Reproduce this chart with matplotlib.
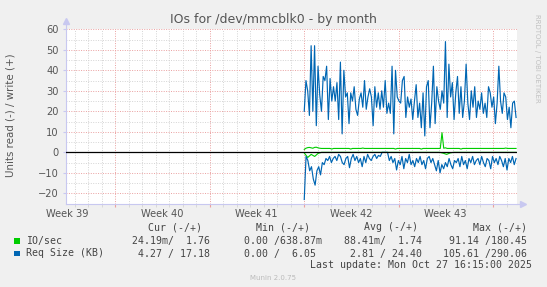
import matplotlib
matplotlib.use('Agg')
import matplotlib.pyplot as plt
from matplotlib.patches import Rectangle
from matplotlib.lines import Line2D
import numpy as np

# 图像尺寸 (像素)
W, H = 547, 287

# 时间轴: 以天为单位, 0 = 绘图区左边缘
week_labels = ['Week 39', 'Week 40', 'Week 41', 'Week 42', 'Week 43']
week_starts = [3.67, 10.67, 17.67, 24.67, 31.67]
x_max = 33.43
t_first, t_last = 17.67, 33.36

# Req Size (KB) write (+)
req_write = [
    20, 35, 30, 18, 52, 20, 52, 13, 42, 28, 20, 37,
    35, 42, 16, 36, 25, 32, 25, 34, 16, 44, 9, 40, 27,
    29, 14, 29, 25, 32, 21, 18, 26, 29, 22, 35, 21, 27, 31,
    27, 13, 32, 22, 29, 21, 30, 22, 35, 19, 24, 19, 42, 9, 40, 27,
    25, 24, 35, 37, 17, 27, 22, 26, 16, 25, 33,
    17, 24, 12, 29, 8, 32, 35, 12, 24, 42, 14, 32,
    25, 21, 30, 24, 54, 17, 43, 27, 34, 16, 29, 37,
    19, 32, 17, 25, 43, 24, 16, 30, 22, 32, 17, 25,
    21, 29, 19, 24, 17, 32, 29, 22, 27, 14, 24, 42,
    25, 19, 29, 27, 16, 22, 12, 24, 25, 17,
]

# Req Size (KB) read (-)
req_read = [
    -23, -2, -4, -9, -7, -13, -16, -9, -7, -11, -5, -6,
    -3, -4, -2, -5, -3, -2, -4, -1, -2, -5, -6, -3,
    -2, -7.5, -3, -1, -4, -2, -5, -3, -7, -2, -5, -1,
    -3, -4, -2, -1, -3, -1.5, -2, 0, 0, 0, 0, -4,
    -2, -5, -3, -8.6, -4, -6, -2, -8, -3, -5, -1, -6,
    -4, -7, -3, -5, -2, -6, -4, -8, -3, -2, -5, -3,
    -6, -9, -4, -10, -6, -8, -5, -7, -3, -6, -8, -4,
    -5, -3, -7, -2, -6, -4, -8, -3, -5, -2, -6, -4,
    -3, -6, -2, -5, -7, -3, -4, -8, -2, -5, -3, -6,
    -2, -4, -7, -3, -8.6, -3, -5, -2, -6, -3,
]

# IO/sec write (+)
io_write = [
    1.4, 2.0, 2.3, 2.4, 2.2, 2.0, 2.4, 2.5, 2.2, 2.0, 1.9, 1.9,
    1.9, 1.9, 1.9, 1.9, 1.6, 1.9, 1.9, 1.9, 1.9, 1.9, 1.9, 1.9,
    1.9, 1.9, 1.9, 1.6, 1.9, 1.9, 1.9, 1.9, 1.9, 1.9, 2.1, 1.9,
    1.9, 1.9, 1.9, 1.9, 1.9, 1.9, 1.9, 1.9, 1.9, 1.9, 1.9, 1.9,
    1.9, 1.9, 1.9, 1.9, 1.9, 1.6, 1.9, 1.9, 1.9, 1.9, 1.9, 1.9,
    1.9, 1.9, 1.9, 1.9, 1.9, 1.9, 1.9, 1.9, 1.6, 1.9, 1.9, 1.9,
    1.9, 1.9, 1.9, 1.9, 1.9, 1.9, 1.9, 1.9, 9.6, 2.0, 2.2, 1.9,
    1.9, 1.9, 1.9, 1.9, 1.9, 1.9, 1.9, 1.6, 1.9, 1.9, 1.9, 1.9,
    1.9, 1.9, 1.9, 1.9, 1.9, 1.9, 1.9, 1.9, 1.9, 1.9, 1.9, 1.9,
    1.9, 1.9, 1.9, 1.9, 1.9, 1.9, 1.9, 1.9, 1.9, 2.1, 1.9, 1.9,
    1.9, 1.9, 1.9, 1.9,
]

# IO/sec read (-)
io_read = [
    -0.3, -2.5, -1.0, -2.0, -0.5, 0, 0, 0, 0, 0, 0, 0,
    0, 0, 0, 0, 0, 0, 0, 0, 0, 0, 0, 0,
    0, 0, 0, 0, 0, 0, 0, 0, 0, 0, 0, 0,
    0, 0, 0, 0, -0.4, -1.0, -0.3, 0, 0, 0, 0, 0,
    0, 0, 0, 0, 0, 0, 0, 0, 0, 0, 0, 0,
    0, 0,
]

# 图例数据
legend_names = ['IO/sec', 'Req Size (KB)']
legend_colors = ['#00CC00', '#0066B3']
col_headers = ['Cur (-/+)', 'Min (-/+)', 'Avg (-/+)', 'Max (-/+)']
col_values = [
    [' 24.19m/  1.76', '  0.00 /638.87m', ' 88.41m/  1.74', ' 91.14 /180.45'],
    ['  4.27 / 17.18', '  0.00 /  6.05', '  2.81 / 24.40', '105.61 /290.06'],
]
last_update = 'Last update: Mon Oct 27 16:15:00 2025'

GREEN, BLUE = legend_colors
TXT = '#444444'
RED_GRID = '#eaa0a0'
GRAY_GRID = '#d4d4d4'
AXIS_C = '#c8c8f0'


def fx(px):
    return px / W


def fy(py):
    return 1 - py / H


fig = plt.figure(figsize=(W / 100, H / 100), dpi=100)
fig.patch.set_facecolor('#F0F0F0')

left, right, top, bottom = 65.7, 517.0, 29.3, 203.6
ax = fig.add_axes([fx(left), fy(bottom), (right - left) / W, (bottom - top) / H])
ax.set_facecolor('white')
ax.set_xlim(0, x_max)
ax.set_ylim(-25, 60)

# 网格
ax.set_xticks(week_starts)
ax.set_xticklabels([])
ax.set_xticks(np.arange(week_starts[0] - 3, x_max, 1.0), minor=True)
ax.set_yticks(np.arange(-20, 61, 10))
ax.set_yticks(np.arange(-25, 61, 5), minor=True)
ax.grid(which='major', color=RED_GRID, linestyle=(0, (1, 1.5)), linewidth=0.7)
ax.grid(which='minor', color=GRAY_GRID, linestyle=(0, (1, 1.5)), linewidth=0.7)
ax.set_axisbelow(True)
ax.tick_params(axis='x', which='major', length=2, color=RED_GRID)
ax.tick_params(axis='x', which='minor', length=2, color=GRAY_GRID)
ax.tick_params(axis='y', which='major', length=2, color=AXIS_C,
               labelsize=7.1, labelcolor='#555555', pad=3)
ax.tick_params(axis='y', which='minor', length=0)

for s in ['top', 'right']:
    ax.spines[s].set_visible(False)
for s in ['left', 'bottom']:
    ax.spines[s].set_color(AXIS_C)
    ax.spines[s].set_linewidth(0.8)

# 箭头
ax.add_line(Line2D([0, 0], [1, 1.04], transform=ax.transAxes, color=AXIS_C,
                   lw=0.8, clip_on=False))
ax.add_line(Line2D([1, 1.012], [0, 0], transform=ax.transAxes, color=AXIS_C,
                   lw=0.8, clip_on=False))
ax.plot([0], [1.045], marker='^', ms=4, color=AXIS_C, transform=ax.transAxes, clip_on=False)
ax.plot([1.014], [0], marker='>', ms=4, color=AXIS_C, transform=ax.transAxes, clip_on=False)

# 周标签
sec = ax.secondary_xaxis('bottom')
sec.set_xticks([w - 3.55 for w in week_starts])
sec.set_xticklabels(week_labels)
sec.tick_params(length=0, pad=4, labelsize=7.1, labelcolor='#555555')
sec.spines['bottom'].set_visible(False)

# 数据
t_rw = np.linspace(t_first, t_last, len(req_write))
t_rr = np.linspace(t_first, t_last, len(req_read))
t_iw = np.linspace(t_first, t_last, len(io_write))
t_ir = np.linspace(t_first, t_last, len(io_read))

ax.plot(t_ir, io_read, color=GREEN, lw=0.8, zorder=2)
ax.plot(t_iw, io_write, color=GREEN, lw=0.8, zorder=2)
ax.plot(t_rr, req_read, color=BLUE, lw=0.85, zorder=2.1)
ax.plot(t_rw, req_write, color=BLUE, lw=0.85, zorder=2.1)
ax.axhline(0, color='black', lw=0.9, zorder=3)

# 标题和轴标签
fig.text(fx(273.5), fy(20), 'IOs for /dev/mmcblk0 - by month', ha='center', va='center',
         fontsize=9, color='#555555')
fig.text(fx(11), fy(115), 'Units read (-) / write (+)', rotation=90, ha='center',
         va='center', fontsize=7.4, color='#555555')
fig.text(fx(537), fy(14), 'RRDTOOL / TOBI OETIKER', rotation=270, ha='center', va='top',
         fontsize=5, color='#c0c0c0')

# 图例
mono = 'DejaVu Sans Mono'
header_x = [147.6, 255.8, 364.0, 472.8]
col_x = [126.0, 232.3, 337.7, 442.8]
row_y = [241, 253.5]
for hx, h in zip(header_x, col_headers):
    fig.text(fx(hx), fy(227.5), h, family=mono, fontsize=7.1, color=TXT, va='center')
for i, name in enumerate(legend_names):
    fig.add_artist(Rectangle((fx(14), fy(row_y[i] + 2.8)), 5.6 / W, 5.6 / H,
                             transform=fig.transFigure, color=legend_colors[i], lw=0))
    fig.text(fx(26.2), fy(row_y[i]), name, family=mono, fontsize=7.1, color=TXT, va='center')
    for cx, v in zip(col_x, col_values[i]):
        fig.text(fx(cx), fy(row_y[i]), v, family=mono, fontsize=7.1, color=TXT, va='center')
fig.text(fx(532), fy(265.5), last_update, family=mono, fontsize=7.1, color=TXT,
         ha='right', va='center')
fig.text(fx(273), fy(278.5), 'Munin 2.0.75', ha='center', va='center', fontsize=5,
         color='#bbbbbb')

fig.savefig('out.png', dpi=100, facecolor=fig.get_facecolor())
